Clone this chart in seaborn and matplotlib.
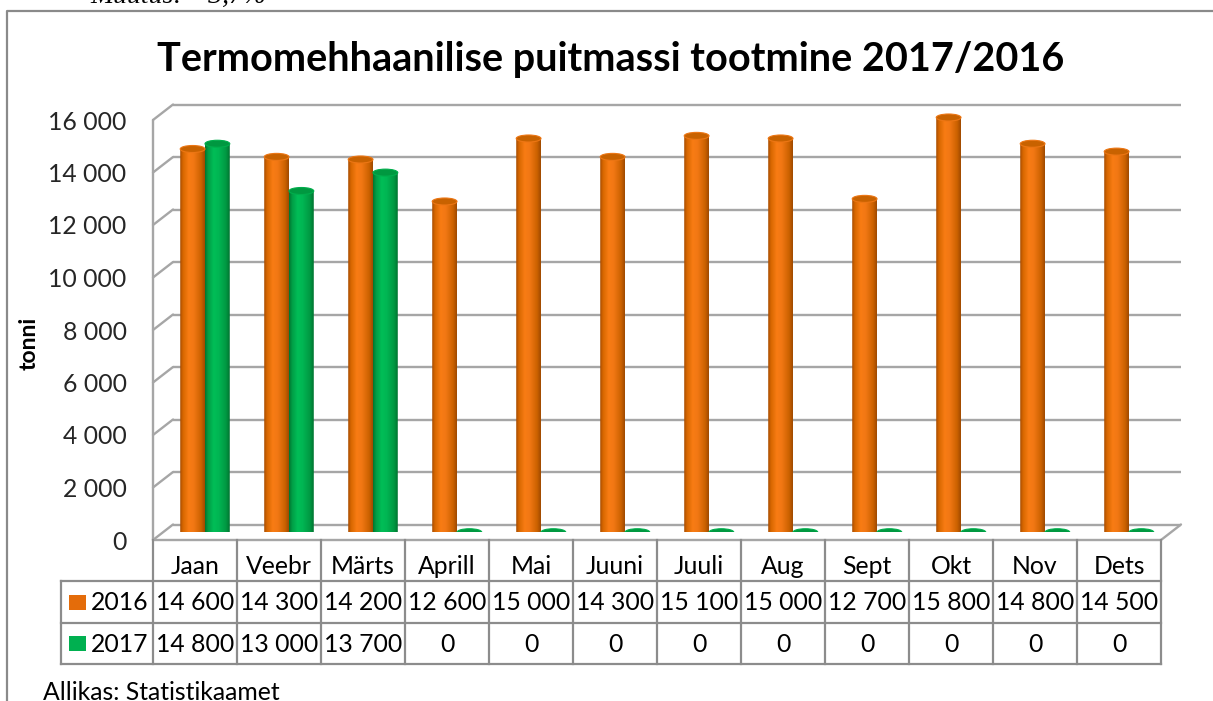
import numpy as np
import pandas as pd
import matplotlib
matplotlib.use("Agg")
import matplotlib.pyplot as plt
import seaborn as sns
from matplotlib.patches import Ellipse, PathPatch
from matplotlib.path import Path
from matplotlib.colors import LinearSegmentedColormap, to_rgb

# andmed
months = ["Jaan", "Veebr", "Märts", "Aprill", "Mai", "Juuni",
          "Juuli", "Aug", "Sept", "Okt", "Nov", "Dets"]
v2016 = [14600, 14300, 14200, 12600, 15000, 14300,
         15100, 15000, 12700, 15800, 14800, 14500]
v2017 = [14800, 13000, 13700, 0, 0, 0, 0, 0, 0, 0, 0, 0]
years = ["2016", "2017"]
y_ticks = [0, 2000, 4000, 6000, 8000, 10000, 12000, 14000, 16000]

title = "Termomehhaanilise puitmassi tootmine 2017/2016"
ylabel = "tonni"
source = "Allikas: Statistikaamet"
top_note = "Muutus: \u22123,7%"

df = pd.DataFrame({
    "kuu": months * 2,
    "aasta": [years[0]] * 12 + [years[1]] * 12,
    "tonni": v2016 + v2017,
})

def fmt(v):
    return f"{v:,}".replace(",", " ")

sns.set_theme(style="white")
plt.rcParams["font.family"] = ["Lato", "DejaVu Sans"]

W, H = 1213, 701
fig = plt.figure(figsize=(W / 100, H / 100), dpi=100)
fig.patch.set_facecolor("white")

def box(x0, y0, x1, y1):
    return [x0 / W, 1 - y1 / H, (x1 - x0) / W, (y1 - y0) / H]

# 3D raam: esitasand, tagasein, keskmine sügavus
X0, X1, YT, YB = 153, 1161, 120, 540
DX, DY = 20, 15.5
YMAX = 16000
colw = (X1 - X0) / 12
ppu = (YB - YT) / YMAX
dxu, dyu = DX / colw, DY / ppu
FS = 17.8

grid_c = "#A6A6A6"
line_c = "#8C8C8C"
orange = "#E46C0A"
green = "#00B050"

ax = fig.add_axes(box(X0, YT, X1, YB))
ax.set_xlim(-0.5, 11.5)
ax.set_ylim(0, YMAX)
ax.set_facecolor("none")
for s in ax.spines.values():
    s.set_visible(False)
ax.set_xticks([])
ax.set_yticks(y_ticks)
ax.set_yticklabels([fmt(v) for v in y_ticks], fontsize=FS)
ax.tick_params(axis="y", length=0, pad=19)

# tagaseina ruudustik
for v in y_ticks:
    ax.plot([-0.5 + dxu, 11.5 + dxu], [v + dyu, v + dyu], color=grid_c,
            lw=1.7, clip_on=False, zorder=1, solid_capstyle="butt")
    ax.plot([-0.5, -0.5 + dxu], [v, v + dyu], color=grid_c,
            lw=1.7, clip_on=False, zorder=1)
ax.plot([-0.5, -0.5], [0, YMAX], color=grid_c, lw=1.7, clip_on=False, zorder=1)
# põrand
ax.plot([-0.5, 11.5, 11.5 + dxu], [0, 0, dyu], color=grid_c, lw=1.7,
        clip_on=False, zorder=1)

# tulbad keskmisel sügavusel
axb = fig.add_axes(box(X0 + DX / 2, YT - DY / 2, X1 + DX / 2, YB - DY / 2))
sns.barplot(data=df, x="kuu", y="tonni", hue="aasta", hue_order=years,
            palette=[orange, green], width=0.59, errorbar=None,
            legend=False, ax=axb, saturation=1)
axb.set_xlim(-0.5, 11.5)
axb.set_ylim(0, YMAX)
axb.set_facecolor("none")
axb.axis("off")

styles = {
    "o": dict(stops=["#A84C00", "#D86800", "#F87C14", "#F27814", "#CC6200", "#A04A00"],
              top="#C86200", rim="#EC7614"),
    "g": dict(stops=["#00762F", "#009E46", "#00BE57", "#00B653", "#009842", "#007431"],
              top="#009840", rim="#00AE4C"),
}
pos = [0.0, 0.12, 0.35, 0.55, 0.85, 1.0]
eh = 7 / ppu
for p in list(axb.patches):
    fc = p.get_facecolor()[:3]
    key = "o" if np.allclose(fc, to_rgb(orange), atol=0.05) else "g"
    st = styles[key]
    x0, w, h = p.get_x(), p.get_width(), p.get_height()
    xc = x0 + w / 2
    p.set_visible(False)
    t = np.linspace(np.pi, 2 * np.pi, 40)
    verts = [(xc + w / 2 * np.cos(a), eh / 2 * np.sin(a)) for a in t]
    verts += [(x0 + w, h), (x0, h), verts[0]]
    body = PathPatch(Path(verts, closed=True), transform=axb.transData)
    cmap = LinearSegmentedColormap.from_list(key, list(zip(pos, st["stops"])))
    grad = np.linspace(0, 1, 64).reshape(1, -1)
    if h > 0:
        im = axb.imshow(grad, cmap=cmap, extent=[x0, x0 + w, -eh / 2, h],
                        aspect="auto", origin="lower", zorder=3)
        im.set_clip_path(body)
    else:
        axb.add_patch(PathPatch(Path(verts, closed=True), fc=st["top"],
                                ec="none", zorder=3))
    axb.add_patch(Ellipse((xc, h), w, eh, fc=st["top"], ec=st["rim"],
                          lw=0.8, zorder=4))
axb.set_xlim(-0.5, 11.5)
axb.set_ylim(0, YMAX)

# andmetabel
TL, TB = 61, 664
rows_y = [540, 581, 623, 664]
axt = fig.add_axes(box(TL, 540, X1, TB))
axt.set_xlim(-0.5 - (X0 - TL) / colw, 11.5)
axt.set_ylim(TB, 540)
axt.axis("off")
lk = dict(color=line_c, lw=1.6, solid_capstyle="projecting", clip_on=False)
edges = [-0.5 + i for i in range(13)]
for e in edges:
    axt.plot([e, e], [540, TB], **lk)
xl = -0.5 - (X0 - TL) / colw
axt.plot([xl, xl], [rows_y[1], TB], **lk)
for yy in rows_y[1:]:
    axt.plot([xl, 11.5], [yy, yy], **lk)
tk = dict(ha="center", va="center", fontsize=FS, color="black")
for i, m in enumerate(months):
    axt.text(i, 566, m, **tk)
    axt.text(i, 603, fmt(v2016[i]), **tk)
    axt.text(i, 644, fmt(v2017[i]), **tk)
for yy, yr, c in [(602, years[0], orange), (643, years[1], green)]:
    axt.add_patch(plt.Rectangle((-0.5 + (69 - X0) / colw, yy - 7.5),
                                17 / colw, 15, fc=c, ec="none"))
    axt.text(-0.5 + (91 - X0) / colw, yy + 1, yr, ha="left", va="center",
             fontsize=FS, color="black")

# tekstid ja raam
fig.text(611 / W, 1 - 71 / H, title, ha="center", va="baseline",
         fontsize=28.5, fontweight="bold", color="black")
fig.text(29 / W, 1 - 343 / H, ylabel, ha="center", va="center",
         rotation=90, fontsize=16.5, fontweight="bold", color="black")
fig.text(43 / W, 1 - 700 / H, source, ha="left", va="baseline",
         fontsize=FS, color="black")
fig.text(90 / W, 1 - 3 / H, top_note, ha="left", va="baseline",
         fontsize=20, style="italic", family="Liberation Serif", color="black")
fig.add_artist(plt.Line2D([7 / W, 7 / W, 1.0], [0.0, 1 - 10.5 / H, 1 - 10.5 / H],
                          transform=fig.transFigure, color="#8A8A8A", lw=1.6))

fig.savefig("out.png", dpi=100, facecolor="white")
